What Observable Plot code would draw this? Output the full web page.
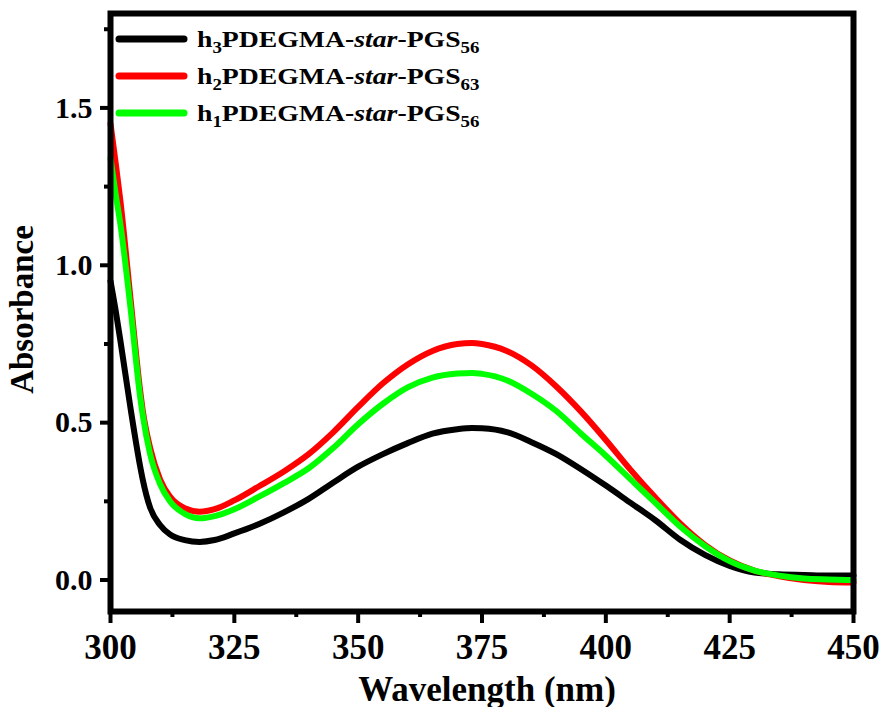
<!DOCTYPE html>
<html><head><meta charset="utf-8">
<script src="https://cdn.jsdelivr.net/npm/d3@7"></script>
<script src="https://cdn.jsdelivr.net/npm/@observablehq/plot@0.6"></script>
<style>body{margin:0;background:#fff} #chart{width:882px;height:707px}</style>
</head><body><div id="chart"></div>
<script>
// ---- data ----
const wavelengths = [300, 301, 302, 304, 306, 306.5, 308, 310, 312, 315, 318, 321, 325, 330, 335, 340, 345, 350, 355, 360, 365, 370, 373, 375, 380, 385, 390, 395, 400, 405, 410, 415, 420, 425, 430, 435, 440, 445, 450];
const h3Values = [0.95, 0.86, 0.76, 0.55, 0.36, 0.32, 0.23, 0.175, 0.145, 0.127, 0.121, 0.127, 0.148, 0.178, 0.215, 0.258, 0.31, 0.36, 0.40, 0.435, 0.465, 0.479, 0.483, 0.482, 0.47, 0.438, 0.40, 0.352, 0.30, 0.245, 0.19, 0.128, 0.08, 0.045, 0.024, 0.018, 0.016, 0.014, 0.014];
const h2Values = [1.45, 1.33, 1.205, 0.90, 0.60, 0.54, 0.42, 0.32, 0.265, 0.228, 0.217, 0.225, 0.253, 0.298, 0.345, 0.40, 0.47, 0.55, 0.625, 0.685, 0.728, 0.75, 0.753, 0.75, 0.728, 0.682, 0.615, 0.535, 0.445, 0.35, 0.262, 0.18, 0.112, 0.062, 0.03, 0.012, 0.0, -0.006, -0.008];
const h1Values = [1.34, 1.23, 1.13, 0.87, 0.58, 0.525, 0.40, 0.305, 0.25, 0.21, 0.196, 0.203, 0.225, 0.265, 0.308, 0.355, 0.42, 0.495, 0.56, 0.612, 0.643, 0.656, 0.658, 0.655, 0.635, 0.592, 0.537, 0.465, 0.395, 0.32, 0.245, 0.17, 0.108, 0.06, 0.03, 0.014, 0.005, 0.002, 0.0];
const seriesKeys = ["h3", "h2", "h1"];
const seriesSubA = ["3", "2", "1"];
const seriesSubB = ["56", "63", "56"];
const seriesColors = ["#000000", "#ff0000", "#00ff00"];
const xTicks = [300, 325, 350, 375, 400, 425, 450];
const xMinorTicks = [312.5, 337.5, 362.5, 387.5, 412.5, 437.5];
const yTicks = [0.0, 0.5, 1.0, 1.5];
const yMinorTicks = [0.25, 0.75, 1.25, 1.75];
const xLabel = "Wavelength (nm)";
const yLabel = "Absorbance";

// ---- table ----
const allValues = [h3Values, h2Values, h1Values];
const rows = [];
allValues.forEach((vals, si) => vals.forEach((v, i) => rows.push({series: seriesKeys[si], x: wavelengths[i], y: v})));

const font = "'Liberation Serif', 'Times New Roman', serif";

const plot = Plot.plot({
  width: 882, height: 707,
  marginLeft: 110, marginRight: 29, marginTop: 13, marginBottom: 96,
  style: {fontFamily: font, fontWeight: "bold", background: "white", color: "black"},
  x: {domain: [300, 450]},
  y: {domain: [-0.1, 1.8]},
  color: {domain: seriesKeys, range: seriesColors},
  marks: [
    ...seriesKeys.map(k => Plot.line(rows.filter(r => r.series === k), {x: "x", y: "y", stroke: "series", strokeWidth: 6, curve: "monotone-x", strokeLinejoin: "round"})),
    Plot.frame({stroke: "black", strokeWidth: 6}),
    Plot.axisX(xTicks, {tickSize: 12, tickPadding: 11, strokeWidth: 4, fontSize: 35, label: null, tickFormat: d => String(d)}),
    Plot.axisX(xMinorTicks, {tickSize: 6, strokeWidth: 4, label: null, tickFormat: () => ""}),
    Plot.axisY(yTicks, {tickSize: 10, tickPadding: 8, strokeWidth: 4, fontSize: 30, label: null, tickFormat: d => d.toFixed(1)}),
    Plot.axisY(yMinorTicks, {tickSize: 6, strokeWidth: 4, label: null, tickFormat: () => ""}),
    Plot.text([xLabel], {text: d => d, frameAnchor: "bottom", dy: 89, dx: 5, lineAnchor: "bottom", fontSize: 35, fontWeight: "bold"}),
    Plot.text([yLabel], {text: d => d, frameAnchor: "left", textAnchor: "middle", rotate: -90, dx: -78, dy: -3, lineAnchor: "bottom", fontSize: 33, fontWeight: "bold"})
  ]
});

document.getElementById("chart").appendChild(plot);

// ---- legend (inside plot, top-left) ----
const svg = d3.select(plot);
const lg = svg.append("g").attr("class", "legend").attr("text-anchor", "start");
const rowY = [39, 76, 113];
seriesKeys.forEach((k, i) => {
  lg.append("line")
    .attr("x1", 119).attr("x2", 184).attr("y1", rowY[i]).attr("y2", rowY[i])
    .attr("stroke", seriesColors[i]).attr("stroke-width", 7).attr("stroke-linecap", "round");
  const g = lg.append("g").attr("transform", `translate(197,${rowY[i] + 8}) scale(1.18,1.02)`);
  const t = g.append("text").attr("text-anchor", "start").attr("font-family", font).attr("font-weight", "bold").attr("font-size", 23.5).attr("fill", "black");
  t.append("tspan").text("h");
  t.append("tspan").attr("font-size", 16).attr("dy", 6).text(seriesSubA[i]);
  t.append("tspan").attr("dy", -6).text("PDEGMA-");
  t.append("tspan").attr("font-style", "italic").text("star");
  t.append("tspan").text("-PGS");
  t.append("tspan").attr("font-size", 16).attr("dy", 6).text(seriesSubB[i]);
});
</script>
</body></html>
